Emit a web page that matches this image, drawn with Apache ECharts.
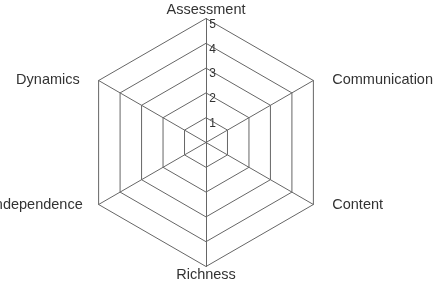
<!DOCTYPE html>
<html>
<head>
<meta charset="utf-8">
<script src="https://cdn.jsdelivr.net/npm/echarts@6/dist/echarts.min.js"></script>
<style>
html, body { margin: 0; padding: 0; background: #fff; }
#chart { width: 439px; height: 281px; }
</style>
</head>
<body>
<div id="chart"></div>
<script>
// axes, counter-clockwise from the top
var indicatorNames = ["Assessment", "Dynamics", "Independence", "Richness", "Content", "Communication"];
var ringValues = [1, 2, 3, 4, 5];
var maxValue = 5;

var indicator = [];
for (var i = 0; i < indicatorNames.length; i++) {
    var ind = {name: indicatorNames[i], min: 0, max: maxValue};
    if (i == 0) {
        // only the top axis carries the ring numbers
        ind.axisLabel = {
            show: true,
            color: '#333',
            fontSize: 12,
            fontFamily: 'Liberation Sans',
            margin: -10,
            verticalAlign: 'top',
            showMinLabel: false
        };
    }
    indicator.push(ind);
}

var nameFont = {fontSize: 14.5, fontFamily: 'Liberation Sans', color: '#333'};

var option = {
    animation: false,
    radar: {
        center: [206, 142.5],
        radius: 124,
        startAngle: 90,
        shape: 'polygon',
        splitNumber: ringValues.length,
        indicator: indicator,
        axisName: {
            color: '#333',
            fontSize: 14.5,
            fontFamily: 'Liberation Sans',
            // side names sit level with their corner, pushed out sideways
            formatter: function (name) {
                var k = indicatorNames.indexOf(name);
                if (k == 1) return '{l1|' + name + '}';
                if (k == 2) return '{l2|' + name + '}';
                if (k == 4 || k == 5) return '{r|' + name + '}';
                return name;
            },
            rich: {
                l1: echarts.util.extend({padding: [0, 18, 0, 0]}, nameFont),
                l2: echarts.util.extend({padding: [0, 15, 0, 0]}, nameFont),
                r: echarts.util.extend({padding: [0, 0, 0, 18]}, nameFont)
            }
        },
        nameGap: 1,
        axisLine: {lineStyle: {color: '#666', width: 1}},
        splitLine: {lineStyle: {color: '#666', width: 1}},
        splitArea: {show: false},
        axisTick: {show: false},
        axisLabel: {show: false}
    },
    series: [{
        type: 'radar',
        data: []
    }]
};

var chart = echarts.init(document.getElementById("chart"));
chart.setOption(option);
</script>
</body>
</html>
